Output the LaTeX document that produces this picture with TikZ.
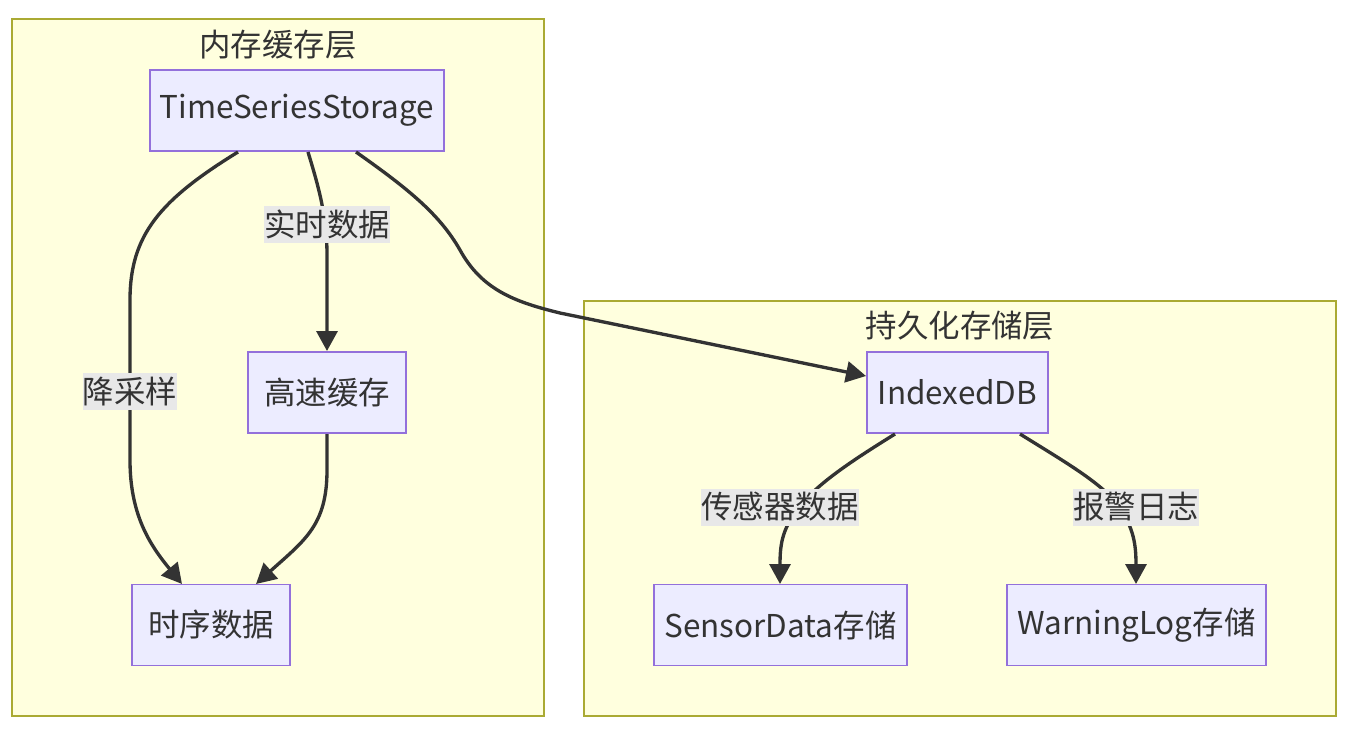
\documentclass[tikz,border=0pt]{standalone}
\usepackage{fontspec}
\setmainfont{Noto Sans CJK SC}
\usetikzlibrary{arrows.meta}
\definecolor{clfill}{HTML}{FFFFDE}
\definecolor{clline}{HTML}{AAAA33}
\definecolor{ndfill}{HTML}{ECECFF}
\definecolor{ndline}{HTML}{9370DB}
\definecolor{edge}{HTML}{333333}
\definecolor{lblbg}{HTML}{E8E8E8}
\begin{document}
\begin{tikzpicture}[x=0.02cm,y=-0.02cm,
  font=\fontsize{17.9pt}{21pt}\selectfont,
  cluster/.style={draw=clline,fill=clfill,line width=0.8pt},
  ttl/.style={text=edge,inner sep=0pt},
  box/.style={draw=ndline,fill=ndfill,line width=0.8pt,text=edge,inner sep=0pt,minimum height=1.62cm},
  lbl/.style={fill=lblbg,text=edge,inner xsep=0pt,inner ysep=0pt,minimum height=0.74cm},
  conn/.style={draw=edge,line width=1.9pt,-{Triangle[length=0.4cm,width=0.42cm]}},
  plain/.style={draw=edge,line width=1.9pt}]
\useasboundingbox (0,0) rectangle (1348,730);
\fill[white] (0,0) rectangle (1348,730);
% clusters
\path[cluster] (12,19) rectangle (544,716);
\path[cluster] (584,301) rectangle (1336,716);
\node[ttl] (t1) at (278,45) {内存缓存层};
\node[ttl] (t2) at (960,326) {持久化存储层};
% nodes
\node[box,minimum width=5.88cm] (tss) at (297,110.5) {TimeSeriesStorage};
\node[box,minimum width=3.16cm] (cache) at (327,392.5) {高速缓存};
\node[box,minimum width=3.16cm] (ts) at (211,625) {时序数据};
\node[box,minimum width=3.62cm] (idb) at (957.5,392.5) {IndexedDB};
\node[box,minimum width=5.06cm] (sd) at (780.5,625) {SensorData存储};
\node[box,minimum width=5.18cm] (wl) at (1136.5,625) {WarningLog存储};
% anchor coordinates
\coordinate (a1) at (238,152);
\coordinate (a1e) at (182,584);
\coordinate (a2) at (308,152);
\coordinate (a2e) at (327,351);
\coordinate (a3) at (327,434);
\coordinate (a3e) at (256,584);
\coordinate (a4) at (356,152);
\coordinate (a4e) at (866,376);
\coordinate (a5) at (895,434);
\coordinate (a5e) at (780,584);
\coordinate (a6) at (1020,434);
\coordinate (a6e) at (1136,584);
% edges
\draw[conn] (a1) .. controls (160,200) and (130,235) .. (130,300) -- (130,460) .. controls (130,515) and (150,545) .. (a1e);
\node[lbl] (l1) at (130,391) {降采样};
\draw[conn] (a2) .. controls (318,185) and (327,215) .. (327,255) -- (a2e);
\node[lbl] (l2) at (327,224) {实时数据};
\draw[conn] (a3) -- (327,470) .. controls (327,525) and (305,540) .. (a3e);
\draw[conn] (a4) .. controls (410,190) and (440,215) .. (460,250) .. controls (482,290) and (515,302) .. (560,313) -- (a4e);
\draw[conn] (a5) .. controls (850,462) and (815,485) .. (797,510) .. controls (782,530) and (780,545) .. (a5e);
\node[lbl] (l5) at (780,507) {传感器数据};
\draw[conn] (a6) .. controls (1065,462) and (1100,482) .. (1118,505) .. controls (1134,528) and (1136,545) .. (a6e);
\node[lbl] (l6) at (1136,507) {报警日志};
\end{tikzpicture}
\end{document}
